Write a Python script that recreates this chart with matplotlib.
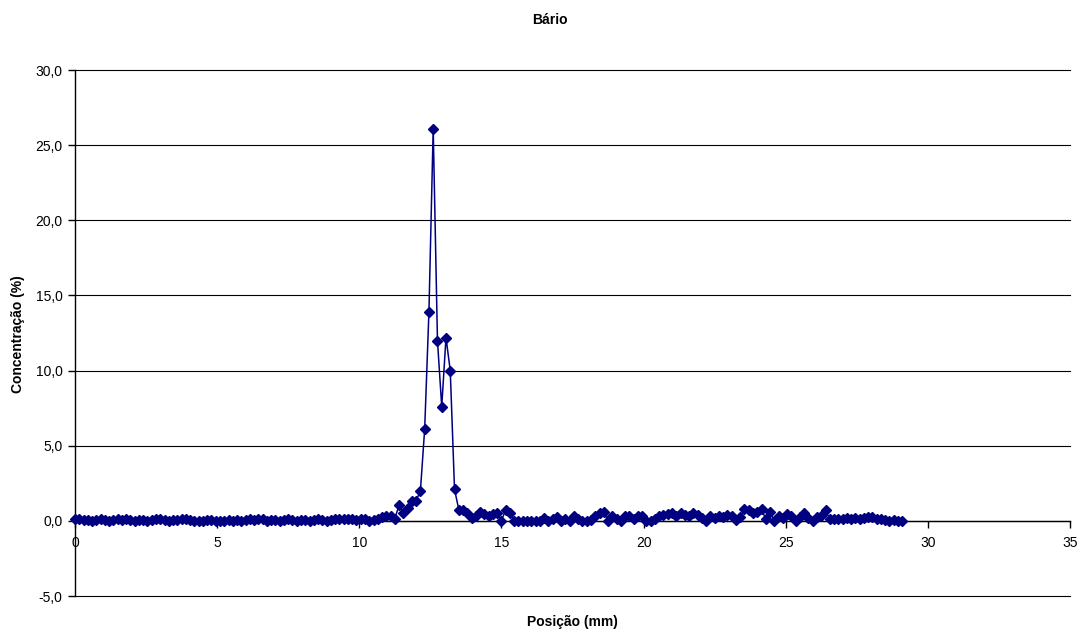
import matplotlib
matplotlib.use("Agg")
import matplotlib.pyplot as plt
from matplotlib.ticker import FuncFormatter, MultipleLocator

plt.rcParams['font.family'] = ['Liberation Sans', 'DejaVu Sans']

positions = [
    0.00, 0.15, 0.30, 0.45, 0.60, 0.75, 0.90, 1.05, 1.20, 1.35,
    1.50, 1.65, 1.80, 1.95, 2.10, 2.25, 2.40, 2.55, 2.70, 2.85,
    3.00, 3.15, 3.30, 3.45, 3.60, 3.75, 3.90, 4.05, 4.20, 4.35,
    4.50, 4.65, 4.80, 4.95, 5.10, 5.25, 5.40, 5.55, 5.70, 5.85,
    6.00, 6.15, 6.30, 6.45, 6.60, 6.75, 6.90, 7.05, 7.20, 7.35,
    7.50, 7.65, 7.80, 7.95, 8.10, 8.25, 8.40, 8.55, 8.70, 8.85,
    9.00, 9.15, 9.30, 9.45, 9.60, 9.75, 9.90, 10.05, 10.20, 10.35,
    10.50, 10.65, 10.80, 10.95, 11.10, 11.25, 11.40, 11.55, 11.70, 11.85,
    12.00, 12.15, 12.30, 12.45, 12.60, 12.75, 12.90, 13.05, 13.20, 13.35,
    13.50, 13.65, 13.80, 13.95, 14.10, 14.25, 14.40, 14.55, 14.70, 14.85,
    15.00, 15.15, 15.30, 15.45, 15.60, 15.75, 15.90, 16.05, 16.20, 16.35,
    16.50, 16.65, 16.80, 16.95, 17.10, 17.25, 17.40, 17.55, 17.70, 17.85,
    18.00, 18.15, 18.30, 18.45, 18.60, 18.75, 18.90, 19.05, 19.20, 19.35,
    19.50, 19.65, 19.80, 19.95, 20.10, 20.25, 20.40, 20.55, 20.70, 20.85,
    21.00, 21.15, 21.30, 21.45, 21.60, 21.75, 21.90, 22.05, 22.20, 22.35,
    22.50, 22.65, 22.80, 22.95, 23.10, 23.25, 23.40, 23.55, 23.70, 23.85,
    24.00, 24.15, 24.30, 24.45, 24.60, 24.75, 24.90, 25.05, 25.20, 25.35,
    25.50, 25.65, 25.80, 25.95, 26.10, 26.25, 26.40, 26.55, 26.70, 26.85,
    27.00, 27.15, 27.30, 27.45, 27.60, 27.75, 27.90, 28.05, 28.20, 28.35,
    28.50, 28.65, 28.80, 28.95, 29.10,
]

concentration = [
    0.10, 0.10, 0.05, 0.05, 0.00, 0.05, 0.10, 0.05, 0.00, 0.05,
    0.10, 0.05, 0.10, 0.05, 0.00, 0.05, 0.05, 0.00, 0.05, 0.10,
    0.15, 0.05, 0.00, 0.05, 0.05, 0.10, 0.15, 0.05, 0.00, 0.00,
    0.00, 0.05, 0.05, 0.00, 0.00, 0.00, 0.05, 0.00, 0.05, 0.00,
    0.05, 0.10, 0.05, 0.15, 0.10, 0.00, 0.05, 0.05, 0.00, 0.05,
    0.10, 0.05, 0.00, 0.05, 0.05, 0.00, 0.05, 0.10, 0.05, 0.00,
    0.05, 0.10, 0.15, 0.10, 0.15, 0.10, 0.05, 0.15, 0.10, 0.00,
    0.05, 0.15, 0.25, 0.35, 0.30, 0.15, 1.05, 0.50, 0.85, 1.35,
    1.35, 2.00, 6.10, 13.90, 26.10, 12.00, 7.60, 12.20, 10.00, 2.10,
    0.75, 0.70, 0.55, 0.20, 0.35, 0.60, 0.45, 0.30, 0.45, 0.50,
    0.00, 0.75, 0.50, 0.00, 0.00, 0.00, 0.00, 0.00, 0.00, 0.00,
    0.20, 0.00, 0.10, 0.25, 0.00, 0.10, 0.00, 0.35, 0.10, 0.00,
    0.00, 0.05, 0.35, 0.50, 0.60, 0.00, 0.30, 0.15, 0.00, 0.30,
    0.35, 0.10, 0.30, 0.35, 0.00, 0.00, 0.10, 0.30, 0.40, 0.45,
    0.50, 0.35, 0.55, 0.40, 0.35, 0.55, 0.40, 0.20, 0.00, 0.35,
    0.20, 0.35, 0.25, 0.40, 0.30, 0.05, 0.25, 0.80, 0.70, 0.50,
    0.60, 0.80, 0.10, 0.60, 0.00, 0.30, 0.20, 0.45, 0.30, 0.00,
    0.25, 0.55, 0.20, 0.00, 0.25, 0.35, 0.70, 0.10, 0.15, 0.10,
    0.15, 0.20, 0.15, 0.20, 0.10, 0.20, 0.25, 0.25, 0.15, 0.10,
    0.05, 0.00, 0.05, 0.00, 0.00,
]

fig = plt.figure(figsize=(10.82, 6.33), dpi=100)
ax = fig.add_axes([75/1082, 1 - 596/633, (1070 - 75)/1082, (596 - 70)/633])

ax.plot(positions, concentration, color='#000080', linewidth=1.1,
        marker='D', markersize=5, markerfacecolor='#000080',
        markeredgecolor='#000080', zorder=3, clip_on=False)

ax.set_xlim(0, 35)
ax.set_ylim(-5, 30)
ax.xaxis.set_major_locator(MultipleLocator(5))
ax.yaxis.set_major_locator(MultipleLocator(5))
ax.yaxis.set_major_formatter(FuncFormatter(lambda v, p: f"{v:.1f}".replace('.', ',')))
ax.xaxis.set_major_formatter(FuncFormatter(lambda v, p: f"{int(round(v))}"))

ax.grid(axis='y', color='black', linewidth=0.8, zorder=0)
for gl in ax.get_ygridlines():
    gl.set_clip_on(False)
ax.spines['top'].set_visible(False)
ax.spines['right'].set_visible(False)
ax.spines['bottom'].set_position(('data', 0))
ax.spines['bottom'].set_linewidth(1.0)
ax.spines['left'].set_linewidth(1.0)

ax.tick_params(axis='both', labelsize=10, direction='out', length=5, width=1)
ax.tick_params(axis='x', pad=6)
ax.tick_params(axis='y', pad=4)

fig.text(550/1082, 1 - 20/633, 'Bário', ha='center', va='center',
         fontsize=10, fontweight='bold')
fig.text(572/1082, 1 - 622/633, 'Posição (mm)', ha='center', va='center',
         fontsize=10, fontweight='bold')
fig.text(18/1082, 1 - 334/633, 'Concentração (%)', ha='center', va='center',
         rotation=90, fontsize=10, fontweight='bold')

fig.savefig('out.png', dpi=100)
